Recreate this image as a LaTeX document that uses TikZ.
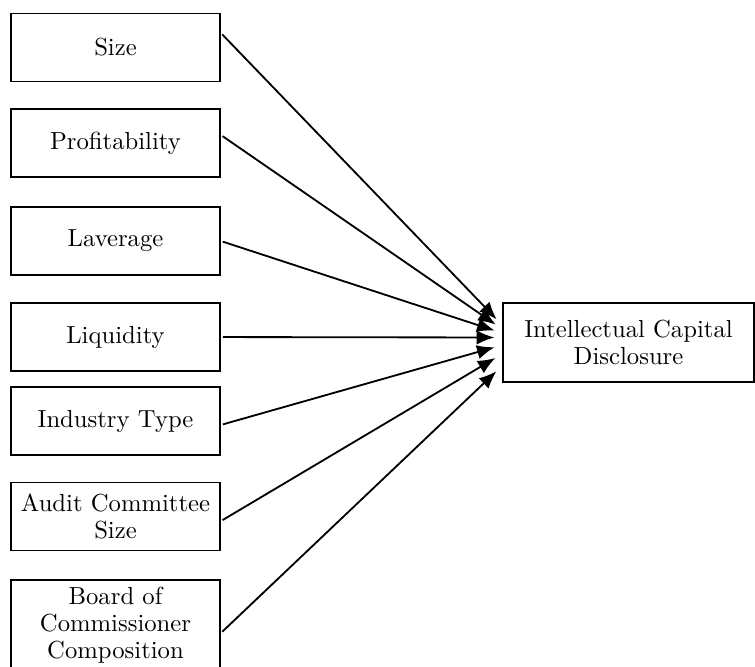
\documentclass[tikz,border=0pt]{standalone}
\usepackage{tikz}
\usetikzlibrary{arrows.meta, positioning}

\tikzset{
    factor/.style={draw, thick, minimum width=3.215cm, minimum height=1.046cm,
        align=center, inner sep=1pt, font=\fontsize{10.8}{11.8}\selectfont},
    outcome/.style={factor, minimum width=3.862cm, minimum height=1.215cm},
    link/.style={->, thick, shorten >=0.12cm, shorten <=0.03cm}
}

\begin{document}
\begin{tikzpicture}[>={Latex[length=2.7mm,width=2.2mm]}]
    \useasboundingbox (0,0) rectangle (11.615,-10.246);
    % 1. Cac bien doc lap
    \node[factor] (size) at (1.777,-0.731) {Size};
    \node[factor] (prof) at (1.777,-2.200) {Profitability};
    \node[factor] (lev)  at (1.777,-3.708) {Laverage};
    \node[factor] (liq)  at (1.777,-5.185) {Liquidity};
    \node[factor] (ind)  at (1.777,-6.477) {Industry Type};
    \node[factor] (aud)  at (1.777,-7.946) {Audit Committee\\Size};
    \node[factor, minimum height=1.385cm] (board) at (1.777,-9.615)
        {Board of\\Commissioner\\Composition};
    % 2. Bien phu thuoc
    \node[outcome] (icd) at (9.669,-5.269) {Intellectual Capital\\Disclosure};
    % 3. Cac mui ten
    \draw[link] ([yshift=0.223cm]size.east)  -- ([yshift=0.27cm]icd.west);
    \draw[link] ([yshift=0.123cm]prof.east)  -- ([yshift=0.208cm]icd.west);
    \draw[link] (lev.east)                   -- ([yshift=0.146cm]icd.west);
    \draw[link] (liq.east)                   -- ([yshift=0.077cm]icd.west);
    \draw[link] ([yshift=-0.06cm]ind.east)   -- ([yshift=-0.04cm]icd.west);
    \draw[link] ([yshift=-0.07cm]aud.east)   -- ([yshift=-0.177cm]icd.west);
    \draw[link] ([yshift=-0.123cm]board.east) -- ([yshift=-0.36cm]icd.west);
\end{tikzpicture}
\end{document}
